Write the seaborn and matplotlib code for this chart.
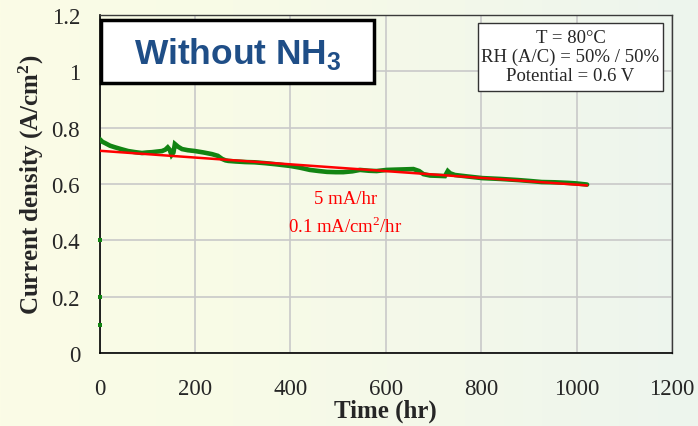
import numpy as np
import pandas as pd
import matplotlib
matplotlib.use("Agg")
import matplotlib.pyplot as plt
import matplotlib.patches as mpatches
from matplotlib.colors import LinearSegmentedColormap
import seaborn as sns

# Durability test data (current density vs. time)
hours = [0, 6, 12, 22, 33, 45, 60, 75, 89, 100, 110, 120, 131, 138, 143, 147,
         151, 155, 158, 165, 173, 185, 200, 218, 236, 248, 257, 264, 270, 285,
         305, 325, 347, 370, 400, 420, 441, 460, 477, 495, 511, 530, 546, 565,
         581, 602, 620, 640, 658, 670, 679, 693, 710, 724, 730, 735, 745, 770,
         802, 840, 877, 900, 927, 955, 982, 1000, 1022]
current = [0.760, 0.750, 0.745, 0.736, 0.730, 0.724, 0.717, 0.713, 0.710,
           0.712, 0.713, 0.715, 0.717, 0.722, 0.730, 0.722, 0.703, 0.712,
           0.742, 0.732, 0.724, 0.720, 0.717, 0.712, 0.706, 0.700, 0.689,
           0.684, 0.682, 0.680, 0.678, 0.677, 0.674, 0.670, 0.664, 0.658,
           0.650, 0.646, 0.643, 0.642, 0.642, 0.645, 0.650, 0.647, 0.646,
           0.650, 0.651, 0.652, 0.653, 0.646, 0.635, 0.630, 0.629, 0.628,
           0.646, 0.638, 0.632, 0.627, 0.621, 0.618, 0.614, 0.611, 0.607,
           0.606, 0.604, 0.602, 0.598]

# Start-up readings at t = 0
startup_hours = [0, 0, 0]
startup_current = [0.40, 0.20, 0.10]

# Linear degradation fit
fit_hours = [0, 1022]
fit_current = [0.718, 0.595]

x_ticks = [0, 200, 400, 600, 800, 1000, 1200]
y_ticks = [0, 0.2, 0.4, 0.6, 0.8, 1.0, 1.2]
y_tick_labels = ["0", "0.2", "0.4", "0.6", "0.8", "1", "1.2"]

conditions = "T = 80°C\nRH (A/C) = 50% / 50%\nPotential = 0.6 V"

sns.set_style("white")
plt.rcParams["font.family"] = ["Liberation Serif", "DejaVu Serif"]
plt.rcParams["mathtext.fontset"] = "custom"
plt.rcParams["mathtext.rm"] = "Liberation Serif"
plt.rcParams["mathtext.bf"] = "Liberation Serif:bold"
plt.rcParams["mathtext.sf"] = "Liberation Sans:bold"

W, H = 698, 427
fig = plt.figure(figsize=(W / 100, H / 100), dpi=100)

def fx(px):
    return px / W

def fy(py):
    return 1 - py / H

# Soft cream-to-mint background
bg = fig.add_axes([0, 0, 1, 1], zorder=-10)
cmap = LinearSegmentedColormap.from_list(
    "bg", ["#fbfce6", "#f8fbe7", "#f3f8ea", "#edf5ee"])
grad = np.linspace(0, 1, 256).reshape(1, -1)
bg.imshow(grad, aspect="auto", cmap=cmap, extent=[0, 1, 0, 1])
bg.set_axis_off()

ax = fig.add_axes([fx(99.5), fy(354), fx(672) - fx(99.5), fy(16) - fy(354)])
ax.set_facecolor("none")

df = pd.DataFrame({"hours": hours, "current": current})
fit_df = pd.DataFrame({"hours": fit_hours, "current": fit_current})
start_df = pd.DataFrame({"hours": startup_hours, "current": startup_current})

sns.lineplot(data=df, x="hours", y="current", ax=ax, color="#128412",
             linewidth=3.3, zorder=3, solid_joinstyle="miter")
sns.scatterplot(data=start_df, x="hours", y="current", ax=ax, color="#128412",
                marker="s", s=8, linewidth=0, zorder=3, clip_on=False)
sns.lineplot(data=fit_df, x="hours", y="current", ax=ax, color="#ff0000",
             linewidth=1.8, zorder=4)

ax.set_xlim(0, 1200)
ax.set_ylim(0, 1.2)
ax.set_xticks(x_ticks)
ax.set_yticks(y_ticks)
ax.set_yticklabels(y_tick_labels)
ax.grid(True, color="#c9c9c9", linewidth=1.2)
ax.set_axisbelow(True)

ax.tick_params(axis="both", direction="out", length=6, width=1,
               color="black", labelsize=16.5)
ax.tick_params(axis="x", pad=12)
ax.tick_params(axis="y", pad=8)

for side in ["left", "bottom"]:
    ax.spines[side].set_color("black")
    ax.spines[side].set_linewidth(1.2)
for side in ["top", "right"]:
    ax.spines[side].set_color("#3a3a3a")
    ax.spines[side].set_linewidth(1.0)

ax.set_xlabel("Time (hr)", fontsize=18, fontweight="bold", labelpad=0)
ax.set_ylabel(r"Current density (A/cm$\mathbf{^{2}}$)", fontsize=18,
              fontweight="bold", labelpad=4)

# Degradation rate annotation
ax.text(515, 0.547, "5 mA/hr", color="#ff0000", fontsize=13.5,
        ha="center", va="center")
ax.text(515, 0.452, r"0.1 mA/cm$^{2}$/hr", color="#ff0000", fontsize=13.5,
        ha="center", va="center")

# Title box
fig.add_artist(mpatches.Rectangle((fx(101), fy(84)), fx(374) - fx(101),
                                  fy(21) - fy(84), transform=fig.transFigure,
                                  facecolor="white", edgecolor="black",
                                  linewidth=2.5, zorder=5))
fig.text(fx(238), fy(54), r"Without NH$_{\mathsf{3}}$", color="#1f4e87",
         fontsize=25.5, fontweight="bold", family="Liberation Sans",
         ha="center", va="center", zorder=6)

# Operating conditions box
fig.add_artist(mpatches.Rectangle((fx(478), fy(92)), fx(663) - fx(478),
                                  fy(24) - fy(92), transform=fig.transFigure,
                                  facecolor="white", edgecolor="#333333",
                                  linewidth=1.0, zorder=5))
fig.text(fx(570.5), fy(57.5), conditions, fontsize=13.5, ha="center",
         va="center", linespacing=1.15, zorder=6)

fig.savefig("out.png", dpi=100)
